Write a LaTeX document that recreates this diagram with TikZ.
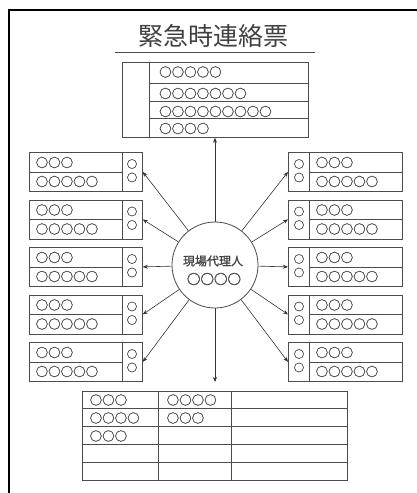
\documentclass[tikz,border=0pt]{standalone}
\usepackage{fontspec}
\newfontfamily\jp{Noto Sans CJK JP}
\newfontfamily\jpc[FakeBold=1.2]{Noto Sans CJK JP}
\usetikzlibrary{arrows.meta}
\begin{document}
\begin{tikzpicture}[x=1pt,y=-1pt,
  ln/.style={draw=black!70, line width=0.8pt},
  box/.style={ln, rectangle, inner sep=0pt, anchor=north west},
  txt/.style={inner sep=0pt, font=\jpc\fontsize{12.5}{12.5}\selectfont, text=black!70},
  smalltxt/.style={inner sep=0pt, font=\jpc\fontsize{10.5}{10.5}\selectfont, text=black!70},
  arr/.style={draw=black!80, line width=0.6pt, -{Stealth[length=5pt,width=4pt]}}]
\useasboundingbox (0,0) rectangle (417,493);
\draw[line width=2pt] (9,493) -- (9,10) -- (417,10);
% title
\node[inner sep=0pt, font=\jp\fontsize{25}{25}\selectfont, text=black!75] (title) at (213.5,36) {緊急時連絡票};
\draw[ln] (115,52) -- (315,52);
% top table
\node[box, minimum width=186, minimum height=75] (T) at (122,62) {};
\draw[ln] ([xshift=27pt]T.north west) -- ([xshift=27pt]T.south west);
\foreach \y in {83,101,118} \draw[ln] (149,\y) -- (308,\y);
\node[txt, anchor=west] (t1) at (159,72) {○○○○○};
\node[txt, anchor=west] (t2) at (159,93.5) {○○○○○○○};
\node[txt, anchor=west] (t3) at (159,111.5) {○○○○○○○○○};
\node[txt, anchor=west] (t4) at (159,128.5) {○○○○};
% centre circle
\node[circle, ln, minimum size=86, inner sep=0pt] (C) at (215,265) {};
\node[inner sep=0pt, font=\jpc\fontsize{12}{12}\selectfont, text=black!75] (c1) at (213,261) {現場代理人};
\node[txt, font=\jpc\fontsize{13.5}{13.5}\selectfont] (c2) at (214,279) {○○○○};
% side boxes
\foreach \i/\t in {1/152,2/199.5,3/247,4/294.5,5/342} {
  \node[box, minimum width=113, minimum height=39] (L\i) at (29,\t) {};
  \draw[ln] ([xshift=-20pt]L\i.north east) -- ([xshift=-20pt]L\i.south east);
  \draw[ln] (L\i.west) -- ([xshift=-20pt]L\i.east);
  \node[txt, anchor=west] (L\i a) at (35.5,\t+10.5) {○○○};
  \node[txt, anchor=west] (L\i b) at (35.5,\t+29.5) {○○○○○};
  \node[smalltxt] (L\i c) at (132,\t+12) {○};
  \node[smalltxt] (L\i d) at (132,\t+25.5) {○};
  \draw[arr] (C) -- (L\i.east);
  \node[box, minimum width=114, minimum height=39] (R\i) at (288,\t) {};
  \draw[ln] ([xshift=21pt]R\i.north west) -- ([xshift=21pt]R\i.south west);
  \draw[ln] ([xshift=21pt]R\i.west) -- (R\i.east);
  \node[txt, anchor=west] (R\i a) at (315.5,\t+10.5) {○○○};
  \node[txt, anchor=west] (R\i b) at (315.5,\t+29.5) {○○○○○};
  \node[smalltxt] (R\i c) at (299,\t+12) {○};
  \node[smalltxt] (R\i d) at (299,\t+25.5) {○};
  \draw[arr] (C) -- (R\i.west);
}
% bottom table
\node[box, minimum width=265, minimum height=89] (BT) at (82,391) {};
\draw[ln] (158,391) -- (158,480);
\draw[ln] (231,391) -- (231,480);
\foreach \y in {408.8,426.6,444.4,462.2} \draw[ln] (82,\y) -- (347,\y);
\node[txt, anchor=west] (b1) at (89.5,400) {○○○};
\node[txt, anchor=west] (b2) at (89.5,418) {○○○○};
\node[txt, anchor=west] (b3) at (89.5,436) {○○○};
\node[txt, anchor=west] (b4) at (166.5,400) {○○○○};
\node[txt, anchor=west] (b5) at (166.5,418) {○○○};
% vertical arrows
\coordinate (B) at (215,382);
\draw[arr] (C) -- (C |- T.south);
\draw[arr] (C) -- (B);
\end{tikzpicture}
\end{document}
